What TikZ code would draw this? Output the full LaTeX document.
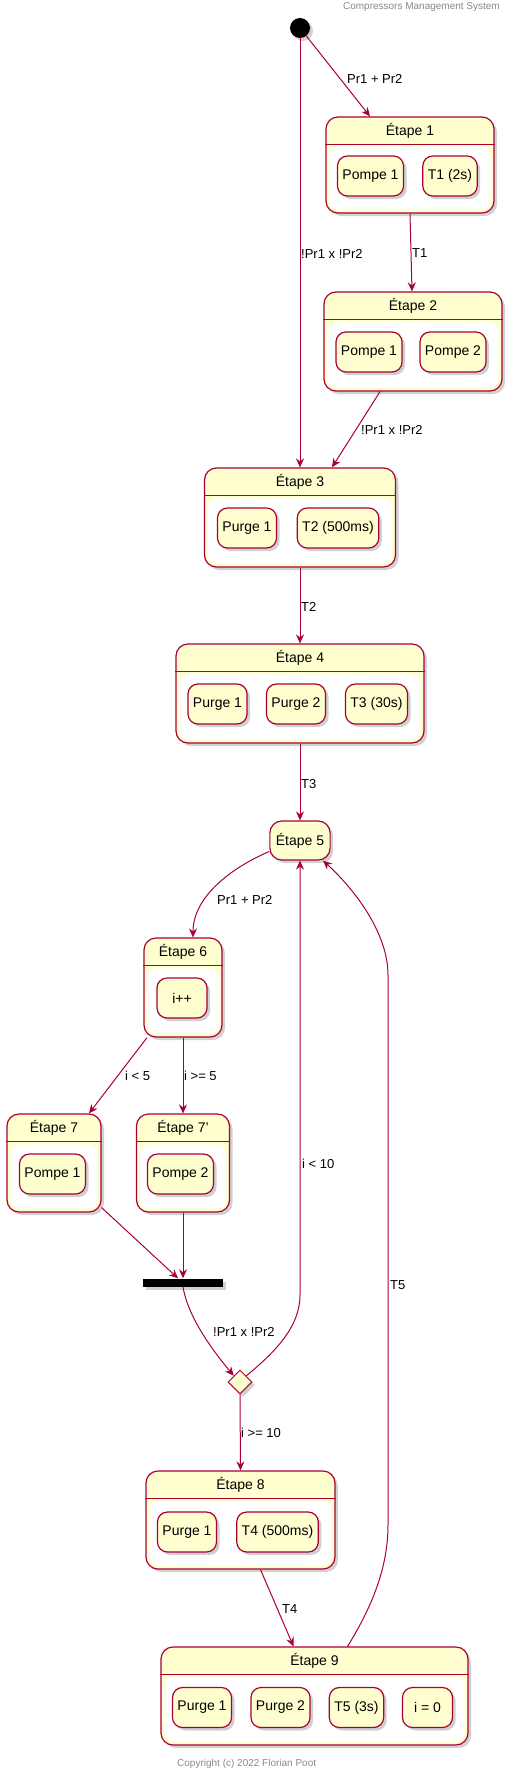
\documentclass[tikz,border=0pt]{standalone}
\usepackage{fontspec}
\setmainfont{Liberation Sans}
\usetikzlibrary{shapes.geometric,shadows,arrows.meta}
\definecolor{bord}{HTML}{A80036}
\definecolor{jaune}{HTML}{FEFECE}
\definecolor{gris}{HTML}{888888}
\tikzset{
  ombre/.style={drop shadow={shadow xshift=3pt, shadow yshift=-3pt, opacity=0.3, fill=black!60}},
  etape/.style={draw=bord, fill=jaune, line width=1.2pt, rounded corners=12pt, ombre},
  simple/.style={etape, inner xsep=6pt, minimum height=39pt, font=\fontsize{14}{16}\selectfont},
  sous/.style={draw=bord, fill=jaune, line width=1.2pt, rounded corners=10pt, minimum width=50pt,
    minimum height=40pt, inner xsep=5pt, ombre, font=\fontsize{14}{16}\selectfont},
  titre/.style={inner sep=0pt, font=\fontsize{14}{16}\selectfont},
  lbl/.style={inner sep=0pt, anchor=west, font=\fontsize{13}{15}\selectfont},
  fl/.style={draw=bord, line width=1pt, -{Stealth[length=9pt, width=8pt, inset=3pt]}},
  note/.style={inner sep=0pt, text=gris, font=\fontsize{10}{12}\selectfont}
}
\begin{document}
\begin{tikzpicture}[x=1pt, y=-1pt]
  \useasboundingbox (0,0) rectangle (513,1774);

  % header and footer
  \node[note, anchor=east] (entete) at (500,7) {Compressors Management System};
  \node[note, anchor=west] (pied) at (177,1764) {Copyright (c) 2022 Florian Poot};

  % initial state
  \node[circle, fill=black, minimum size=20pt, inner sep=0pt, ombre] (init) at (300,28) {};

  % composite states
  \node[etape, minimum width=168pt, minimum height=96pt] (e1) at (410,165) {};
  \node[etape, minimum width=178pt, minimum height=99pt] (e2) at (413,341.5) {};
  \node[etape, minimum width=191pt, minimum height=99pt] (e3) at (300,517.5) {};
  \node[etape, minimum width=248pt, minimum height=99pt] (e4) at (300,693.5) {};
  \node[simple] (e5) at (300,840.5) {Étape 5};
  \node[etape, minimum width=78pt, minimum height=99pt] (e6) at (183,987.5) {};
  \node[etape, minimum width=94pt, minimum height=98pt] (e7) at (54,1163) {};
  \node[etape, minimum width=93pt, minimum height=98pt] (e7p) at (183,1163) {};
  \node[etape, minimum width=189pt, minimum height=98pt] (e8) at (240.5,1520) {};
  \node[etape, minimum width=307pt, minimum height=98pt] (e9) at (314.5,1696) {};

  % header line and white body
  \foreach \n in {e1,e2,e3,e4,e6,e7,e7p,e8,e9} {
    \fill[white, rounded corners=9pt] ([xshift=4pt,yshift=-31pt]\n.north west) rectangle ([xshift=-4pt,yshift=4pt]\n.south east);
    \draw[bord, line width=1.2pt] ([yshift=-28pt]\n.north west) -- ([yshift=-28pt]\n.north east);
  }

  % titles
  \node[titre] (e1t) at ([yshift=-14pt]e1.north) {Étape 1};
  \node[titre] (e2t) at ([yshift=-14pt]e2.north) {Étape 2};
  \node[titre] (e3t) at ([yshift=-14pt]e3.north) {Étape 3};
  \node[titre] (e4t) at ([yshift=-14pt]e4.north) {Étape 4};
  \node[titre] (e6t) at ([yshift=-14pt]e6.north) {Étape 6};
  \node[titre] (e7t) at ([yshift=-14pt]e7.north) {Étape 7};
  \node[titre] (e7pt) at ([yshift=-14pt]e7p.north) {Étape 7'};
  \node[titre] (e8t) at ([yshift=-14pt]e8.north) {Étape 8};
  \node[titre] (e9t) at ([yshift=-14pt]e9.north) {Étape 9};

  % sub states
  \node[sous] (e1a) at (370.5,176) {Pompe 1};
  \node[sous] (e1b) at (450,176) {T1 (2s)};
  \node[sous] (e2a) at (369,352) {Pompe 1};
  \node[sous] (e2b) at (453,352) {Pompe 2};
  \node[sous] (e3a) at (247,528) {Purge 1};
  \node[sous] (e3b) at (338,528) {T2 (500ms)};
  \node[sous] (e4a) at (217.5,704) {Purge 1};
  \node[sous] (e4b) at (296,704) {Purge 2};
  \node[sous] (e4c) at (376.5,704) {T3 (30s)};
  \node[sous] (e6a) at (182,998) {i++};
  \node[sous] (e7a) at (52.5,1174) {Pompe 1};
  \node[sous] (e7pa) at (180.5,1174) {Pompe 2};
  \node[sous] (e8a) at (187,1532) {Purge 1};
  \node[sous] (e8b) at (277.5,1532) {T4 (500ms)};
  \node[sous] (e9a) at (202,1707.5) {Purge 1};
  \node[sous] (e9b) at (280.5,1707.5) {Purge 2};
  \node[sous] (e9c) at (356.5,1707.5) {T5 (3s)};
  \node[sous] (e9d) at (427.5,1707.5) {i = 0};

  % fork bar and choice
  \node[fill=black, minimum width=80pt, minimum height=8pt, inner sep=0pt, ombre] (f) at (183,1282.5) {};
  \node[diamond, draw=bord, fill=jaune, line width=1pt, minimum width=24pt, minimum height=24pt, inner sep=0pt, ombre] (d) at (240,1382) {};

  % transitions
  \draw[fl] (init) -- ([xshift=-40pt]e1.north);
  \node[lbl] (l1) at (347,79) {Pr1 + Pr2};
  \draw[fl] (init) -- (e3.north);
  \node[lbl] (l2) at (301,254) {!Pr1 x !Pr2};
  \draw[fl] (e1.south) -- ([xshift=-1pt]e2.north);
  \node[lbl] (l3) at (412,253) {T1};
  \draw[fl] ([xshift=-33pt]e2.south) -- ([xshift=32pt]e3.north);
  \node[lbl] (l4) at (361,430) {!Pr1 x !Pr2};
  \draw[fl] (e3.south) -- (e4.north);
  \node[lbl] (l5) at (301,607) {T2};
  \draw[fl] (e4.south) -- (e5.north);
  \node[lbl] (l6) at (301,784) {T3};
  \draw[fl] ([yshift=-11pt]e5.west) .. controls (235,866) and (193,895) .. ([xshift=10pt]e6.north);
  \node[lbl] (l7) at (217,900) {Pr1 + Pr2};
  \draw[fl] ([xshift=-36pt]e6.south) -- ([xshift=35pt]e7.north);
  \node[lbl] (l8) at (125,1076) {i < 5};
  \draw[fl] (e6.south) -- (e7p.north);
  \node[lbl] (l9) at (184,1076) {i >= 5};
  \draw[fl] ([yshift=5pt]e7.south east) -- ([xshift=-5pt]f.north);
  \draw[fl] (e7p.south) -- (f.north);
  \draw[fl] (f.south) .. controls (188,1318) and (214,1352) .. (d.north west);
  \node[lbl] (l10) at (213,1332) {!Pr1 x !Pr2};
  \coordinate (c1) at (300,1295);
  \draw[fl] (d.north east) .. controls (278,1350) and (300,1325) .. (c1) -- (e5.south);
  \node[lbl] (l11) at (302,1164) {i < 10};
  \draw[fl] (d.south) -- (e8.north);
  \node[lbl] (l12) at (241,1433) {i >= 10};
  \draw[fl] ([xshift=20pt]e8.south) -- ([xshift=-21pt]e9.north);
  \node[lbl] (l13) at (282,1609) {T4};
  \coordinate (c2) at (388,1525);
  \coordinate (c3) at (388,975);
  \draw[fl] ([xshift=33pt]e9.north) .. controls (370,1610) and (388,1570) .. (c2) -- (c3)
    .. controls (388,930) and (350,885) .. ([xshift=23pt]e5.south);
  \node[lbl] (l14) at (390,1285) {T5};
\end{tikzpicture}
\end{document}
